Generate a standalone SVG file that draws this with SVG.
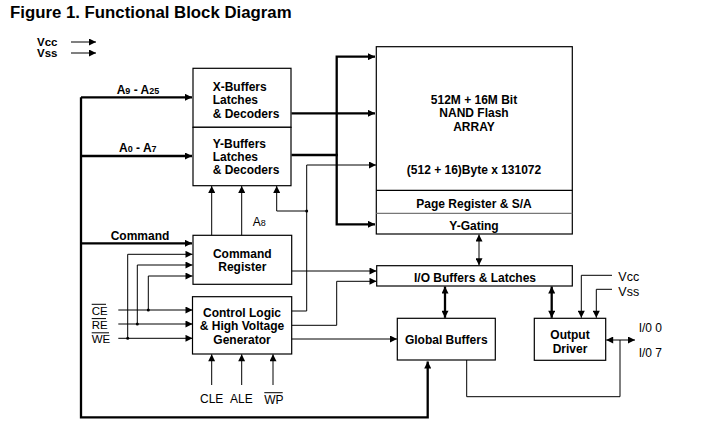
<svg xmlns="http://www.w3.org/2000/svg" width="705" height="432" viewBox="0 0 705 432">
<style>
.b{font-family:"Liberation Sans",Arial,sans-serif;font-weight:bold;font-size:12px;fill:#000}
.r{font-family:"Liberation Sans",Arial,sans-serif;font-size:12px;fill:#000}
.m{text-anchor:middle}
.box{fill:#fff;stroke:#000;stroke-width:1.2}
.thin{fill:none;stroke:#000;stroke-width:1}
.thick{fill:none;stroke:#000;stroke-width:2.3}
.ov{stroke:#000;stroke-width:1}
</style>
<defs>
<marker id="ah" viewBox="0 0 10 10" refX="10" refY="5" markerWidth="8" markerHeight="7" markerUnits="userSpaceOnUse" orient="auto-start-reverse">
<path d="M0,0 L10,5 L0,10 z" fill="#000"/>
</marker>
</defs>
<rect width="705" height="432" fill="#fff"/>
<g id="title"><text class="b" x="10" y="18" style="font-size:16.8px">Figure 1. Functional Block Diagram</text></g>
<g id="supply-legend">
<text class="b" x="37" y="46" style="font-size:11.5px">Vcc</text>
<text class="b" x="37" y="57" style="font-size:11.5px">Vss</text>
<line class="thin" x1="71" y1="42" x2="96" y2="42" marker-end="url(#ah)"/>
<line class="thin" x1="71" y1="53" x2="96" y2="53" marker-end="url(#ah)"/>
</g>
<g id="connectors">
<!-- thick address bus -->
<path class="thick" d="M81,97.3 V417.3 H427.7 V361.5" marker-end="url(#ah)"/>
<line class="thick" x1="81" y1="97.3" x2="192" y2="97.3" marker-end="url(#ah)"/>
<line class="thick" x1="81" y1="156" x2="192" y2="156" marker-end="url(#ah)"/>
<line class="thick" x1="81" y1="243.3" x2="192" y2="243.3" marker-end="url(#ah)"/>
<!-- to array -->
<path class="thick" d="M375,56.7 H336.7 V224.3 H375" marker-start="url(#ah)" marker-end="url(#ah)"/>
<line class="thick" x1="291.5" y1="113.3" x2="375" y2="113.3" marker-end="url(#ah)"/>
<line class="thick" x1="291.5" y1="155" x2="337.8" y2="155"/>
<!-- command register to Y buffers -->
<line class="thin" x1="211.7" y1="235.3" x2="211.7" y2="186" marker-end="url(#ah)"/>
<line class="thin" x1="241.7" y1="235.3" x2="241.7" y2="186" marker-end="url(#ah)"/>
<!-- control logic outputs -->
<path class="thin" d="M291.7,311 H306.7 V165 H376" marker-end="url(#ah)"/>
<path class="thin" d="M306.7,211 H276.7 V186" marker-end="url(#ah)"/>
<circle cx="306.7" cy="211" r="1.5" fill="#000"/>
<path class="thin" d="M291.7,325.3 H336.7 V281.3 H376.5" marker-end="url(#ah)"/>
<line class="thin" x1="291.7" y1="271" x2="376.5" y2="271" marker-end="url(#ah)"/>
<line class="thin" x1="291.7" y1="339" x2="397" y2="339" marker-end="url(#ah)"/>
<!-- CE RE WE -->
<line class="thin" x1="118.3" y1="310" x2="192.5" y2="310" marker-end="url(#ah)"/>
<line class="thin" x1="118.3" y1="324" x2="192.5" y2="324" marker-end="url(#ah)"/>
<line class="thin" x1="118.3" y1="338.3" x2="192.5" y2="338.3" marker-end="url(#ah)"/>
<path class="thin" d="M148.3,310 V276 H192.5" marker-end="url(#ah)"/>
<path class="thin" d="M137.3,324 V265 H192.5" marker-end="url(#ah)"/>
<path class="thin" d="M127.7,338.3 V254.3 H192.5" marker-end="url(#ah)"/>
<circle cx="148.3" cy="310" r="1.5" fill="#000"/>
<circle cx="137.3" cy="324" r="1.5" fill="#000"/>
<circle cx="127.7" cy="338.3" r="1.5" fill="#000"/>
<!-- CLE ALE WP -->
<line class="thin" x1="211.7" y1="385" x2="211.7" y2="354.3" marker-end="url(#ah)"/>
<line class="thin" x1="241.7" y1="385" x2="241.7" y2="354.3" marker-end="url(#ah)"/>
<line class="thin" x1="273" y1="385" x2="273" y2="354.3" marker-end="url(#ah)"/>
<!-- array <-> IO -->
<line class="thin" x1="479" y1="234.5" x2="479" y2="265.2" marker-start="url(#ah)" marker-end="url(#ah)"/>
<line class="thick" x1="445" y1="286.5" x2="445" y2="317.8" marker-start="url(#ah)" marker-end="url(#ah)"/>
<line class="thick" x1="551.7" y1="286.5" x2="551.7" y2="317.8" marker-start="url(#ah)" marker-end="url(#ah)"/>
<!-- Vcc Vss to output driver -->
<path class="thin" d="M612,275.3 H581.3 V317.8" marker-end="url(#ah)"/>
<path class="thin" d="M612,289.3 H596.3 V317.8" marker-end="url(#ah)"/>
<!-- I/O pins -->
<line class="thin" x1="606.2" y1="340" x2="635" y2="340" stroke-width="1.3" marker-start="url(#ah)" marker-end="url(#ah)"/>
<path class="thin" d="M466.7,360 V396.7 H620 V340"/>
</g>
<g id="x-buffers">
<rect class="box" x="193" y="68.3" width="98" height="59"/>
<text class="b" x="212.7" y="90.7">X-Buffers</text>
<text class="b" x="212.7" y="104.2">Latches</text>
<text class="b" x="212.7" y="117.7">&amp; Decoders</text>
</g>
<g id="y-buffers">
<rect class="box" x="193" y="127.3" width="98" height="58.4"/>
<text class="b" x="212.7" y="147.7">Y-Buffers</text>
<text class="b" x="212.7" y="160.9">Latches</text>
<text class="b" x="212.7" y="174">&amp; Decoders</text>
</g>
<g id="bus-labels">
<text class="b" x="116.7" y="94.3">A<tspan style="font-size:9px">9</tspan> - A<tspan style="font-size:9px">25</tspan></text>
<text class="b" x="119" y="152.3">A<tspan style="font-size:9px">0</tspan> - A<tspan style="font-size:9px">7</tspan></text>
<text class="b" x="110.7" y="240">Command</text>
<text class="r" x="252.7" y="225.7">A<tspan style="font-size:9px">8</tspan></text>
</g>
<g id="array">
<rect class="box" x="376.3" y="46.7" width="196" height="187.3"/>
<line x1="376.3" y1="190.3" x2="572.3" y2="190.3" stroke="#000" stroke-width="1.2"/>
<line x1="376.3" y1="213.3" x2="572.3" y2="213.3" stroke="#777" stroke-width="1.2"/>
<text class="b m" x="474" y="104">512M + 16M Bit</text>
<text class="b m" x="474" y="116.7">NAND Flash</text>
<text class="b m" x="474" y="130.7">ARRAY</text>
<text class="b m" x="474" y="174.3">(512 + 16)Byte x 131072</text>
<text class="b m" x="474" y="208.3">Page Register &amp; S/A</text>
<text class="b m" x="474" y="230">Y-Gating</text>
</g>
<g id="command-register">
<rect class="box" x="193" y="235.3" width="98.7" height="49"/>
<text class="b m" x="242.3" y="257.7">Command</text>
<text class="b m" x="242.3" y="271">Register</text>
</g>
<g id="control-logic">
<rect class="box" x="192.5" y="296.7" width="99.2" height="57.3"/>
<text class="b m" x="242" y="316.7">Control Logic</text>
<text class="b m" x="242" y="330.3">&amp; High Voltage</text>
<text class="b m" x="242" y="344.3">Generator</text>
</g>
<g id="control-inputs">
<text class="r" x="91.7" y="314.5" style="font-size:11.5px">CE</text>
<text class="r" x="91.7" y="328.5" style="font-size:11.5px">RE</text>
<text class="r" x="91.7" y="342.8" style="font-size:11.5px">WE</text>
<line class="ov" x1="91.7" y1="304.3" x2="106" y2="304.3"/>
<line class="ov" x1="91.7" y1="318.6" x2="106" y2="318.6"/>
<line class="ov" x1="91.7" y1="332.8" x2="109" y2="332.8"/>
<text class="r" x="200" y="403.3">CLE</text>
<text class="r" x="230" y="403.3">ALE</text>
<text class="r" x="264.3" y="404">WP</text>
<line class="ov" x1="264.3" y1="392.7" x2="282.7" y2="392.7"/>
</g>
<g id="io-buffers">
<rect class="box" x="376.7" y="265.7" width="195.6" height="20.3"/>
<text class="b m" x="475" y="281.7">I/O Buffers &amp; Latches</text>
</g>
<g id="global-buffers">
<rect class="box" x="397.3" y="318.3" width="98" height="41.7"/>
<text class="b m" x="446.3" y="344.3">Global Buffers</text>
</g>
<g id="output-driver">
<rect class="box" x="534.3" y="318.3" width="71.4" height="42"/>
<text class="b m" x="570" y="339">Output</text>
<text class="b m" x="570" y="352.5">Driver</text>
</g>
<g id="pin-labels">
<text class="r" x="618.3" y="280.7" style="font-size:12.5px">Vcc</text>
<text class="r" x="618.3" y="295.7" style="font-size:12.5px">Vss</text>
<text class="r" x="638.7" y="332.3">I/0 0</text>
<text class="r" x="638.7" y="356.7">I/0 7</text>
</g>
</svg>
